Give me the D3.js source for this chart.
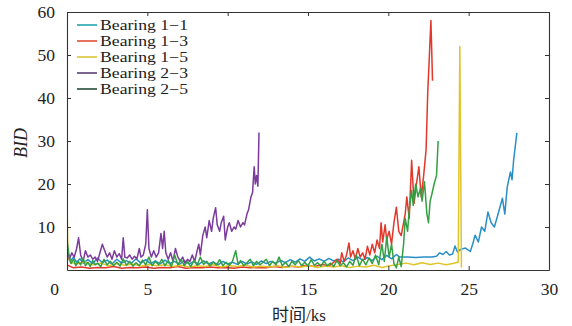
<!DOCTYPE html>
<html>
<head>
<meta charset="utf-8">
<script src="https://cdn.jsdelivr.net/npm/d3@7"></script>
<style>
  body { margin: 0; background: #fff; }
  svg { display: block; }
  text { font-family: "Liberation Serif", "Times New Roman", serif; fill: #222; }
</style>
</head>
<body>
<figure id="chart" style="margin:0"></figure>
<script>
// series names + colours
const names = ["Bearing 1\u22121", "Bearing 1\u22123", "Bearing 1\u22125", "Bearing 2\u22123", "Bearing 2\u22125"]
const colors = ["#2a8fc9", "#e2372a", "#e0c42a", "#7b3b9c", "#33a043"]
const legendColors = ["#4fb7bf", "#e8705f", "#e2cf5c", "#7a6690", "#4f7060"]

const xTicks = [0, 5, 10, 15, 20, 25, 30]
const yTicks = [10, 20, 30, 40, 50, 60]

// [time ks, BID]
const b11 = [[0,3.5],[0.2,2],[0.4,3],[0.6,1.8],[0.8,2.6],[1.0,1.6],[1.3,2.4],[1.6,1.5],[1.9,2.8],[2.2,1.7],[2.5,2.3],[2.8,1.4],[3.1,2.5],[3.4,1.6],[3.7,2.2],[4.0,1.5],[4.3,2.6],[4.6,1.6],[4.9,2.4],[5.2,1.5],[5.5,2.1],[5.8,1.4],[6.1,2.3],[6.4,1.5],[6.7,2.0],[7.0,1.3],[7.3,2.2],[7.6,1.4],[7.9,2.0],[8.2,1.3],[8.5,2.1],[8.8,1.4],[9.1,1.9],[9.4,1.2],[9.7,2.0],[10.0,1.4],[10.3,1.8],[10.6,1.3],[10.9,2.0],[11.2,1.4],[11.5,1.9],[11.8,1.3],[12.1,2.1],[12.4,1.5],[12.7,2.0],[13.0,1.6],[13.3,2.2],[13.6,1.7],[13.9,2.4],[14.2,1.8],[14.5,2.6],[14.8,2.0],[15.1,3.0],[15.4,2.1],[15.7,2.6],[16.0,2.0],[16.3,2.7],[16.6,2.1],[16.9,2.5],[17.2,1.9],[17.5,2.8],[17.8,2.2],[18.1,3.0],[18.4,2.3],[18.7,2.9],[19.0,2.2],[19.3,3.2],[19.6,2.4],[19.9,3.4],[20.2,2.6],[20.5,3.6],[20.7,3.0],[21.2,3.0],[21.7,2.9],[22.2,3.0],[22.7,3.0],[23.0,3.2],[23.2,4.0],[23.4,3.6],[23.6,4.3],[23.8,3.5],[24.0,3.7],[24.15,5.6],[24.3,4.2],[24.5,4.8],[24.8,5.1],[25.1,4.3],[25.25,6.0],[25.4,8.1],[25.6,6.5],[25.8,10],[26.0,9],[26.2,13.5],[26.4,11],[26.6,10],[26.8,12.6],[27.1,16.7],[27.25,13],[27.4,19.3],[27.6,22.8],[27.7,21],[27.8,25.6],[28.0,31.9]]

const b13 = [[0,1.2],[0.4,0.5],[0.9,0.7],[1.4,0.4],[1.9,0.6],[2.4,0.5],[2.9,0.8],[3.4,0.4],[3.9,0.6],[4.4,0.5],[4.9,0.7],[5.4,0.4],[5.9,0.6],[6.4,0.5],[6.9,0.8],[7.4,0.4],[7.9,0.6],[8.4,0.5],[8.9,0.7],[9.4,0.5],[9.9,0.6],[10.4,0.4],[10.9,0.7],[11.4,0.5],[11.9,0.6],[12.4,0.5],[12.9,0.8],[13.4,0.6],[13.9,0.9],[14.4,0.7],[14.9,1.1],[15.4,0.8],[15.9,1.3],[16.3,0.9],[16.6,1.8],[16.8,2.5],[17.0,1.5],[17.1,4],[17.25,2],[17.4,3.5],[17.55,6.3],[17.65,3],[17.8,4.5],[17.95,2.5],[18.1,5],[18.25,3],[18.4,4],[18.55,2.5],[18.7,5.5],[18.85,3.5],[19.0,6],[19.15,4],[19.3,7],[19.45,5],[19.55,11],[19.65,6.5],[19.8,10.5],[19.9,7],[20.05,9],[20.2,6],[20.35,11],[20.5,14.6],[20.65,9],[20.8,8],[20.95,11],[21.05,13],[21.15,17],[21.3,12],[21.45,25.5],[21.6,15.5],[21.75,20],[21.9,24],[22.05,17],[22.2,22],[22.35,28],[22.45,41],[22.55,49.5],[22.65,58],[22.75,44]]

const b15 = [[0,16],[0.06,3],[0.2,1.8],[0.6,1.4],[1.1,1.9],[1.6,1.2],[2.1,1.6],[2.6,1.0],[3.1,1.5],[3.6,1.1],[4.1,1.4],[4.6,0.9],[5.1,1.3],[5.6,1.0],[6.1,1.2],[6.6,0.8],[7.1,1.1],[7.6,0.7],[8.1,1.0],[8.6,0.8],[9.1,1.2],[9.6,0.7],[10.1,1.0],[10.6,0.8],[11.1,1.1],[11.6,0.7],[12.1,0.9],[12.6,0.7],[13.1,1.0],[13.6,0.6],[14.1,0.9],[14.6,0.7],[15.1,1.0],[15.6,0.6],[16.1,0.9],[16.6,0.7],[17.1,1.0],[17.6,0.6],[18.1,0.9],[18.6,0.7],[19.1,1.1],[19.6,0.6],[20.1,1.0],[20.6,1.3],[21.1,1.6],[21.6,1.2],[22.1,1.7],[22.6,1.3],[23.1,1.6],[23.6,1.2],[24.0,1.5],[24.35,1.8],[24.45,52],[24.55,0.6]]

const b23 = [[0,5.5],[0.15,2.5],[0.3,4],[0.45,3],[0.6,5],[0.72,7.5],[0.85,3.5],[1.0,2],[1.15,4.5],[1.3,3],[1.45,3.5],[1.6,2.5],[1.75,3],[1.9,2],[2.05,4],[2.2,6],[2.35,4.5],[2.5,3],[2.65,4],[2.8,2.5],[2.95,4.5],[3.1,3],[3.25,3.8],[3.4,2.5],[3.5,7.5],[3.6,3],[3.75,2.8],[3.9,3.5],[4.05,2.5],[4.2,3.2],[4.35,2.6],[4.5,5],[4.6,3],[4.75,3.5],[4.9,6],[5.0,14],[5.1,5],[5.25,3],[5.4,4.5],[5.55,3],[5.7,4],[5.85,8.5],[5.95,5],[6.05,9],[6.15,4],[6.3,2.5],[6.45,4],[6.6,2],[6.75,5],[6.9,3],[7.05,2],[7.2,3],[7.35,1.5],[7.5,2.5],[7.65,2],[7.8,3.5],[7.95,2],[8.1,4.5],[8.2,6],[8.3,3.5],[8.45,8],[8.6,10],[8.7,7.5],[8.85,11.5],[9.0,9],[9.1,12],[9.25,14.5],[9.35,10.5],[9.5,9],[9.6,11],[9.75,12.5],[9.85,7],[10.0,10],[10.1,11],[10.25,9],[10.4,10],[10.5,9.5],[10.65,11.5],[10.8,10],[10.95,11],[11.05,10.5],[11.2,13],[11.3,14],[11.45,17],[11.55,18],[11.65,24],[11.72,20],[11.8,22],[11.88,19.5],[11.95,32]]

const b25 = [[0,7],[0.1,4],[0.25,1.5],[0.4,2.5],[0.55,1],[0.7,2],[0.85,1.2],[1.0,2.8],[1.15,1],[1.3,1.8],[1.45,0.8],[1.6,2.2],[1.75,1.2],[1.9,1.6],[2.1,0.8],[2.3,2.5],[2.5,1.2],[2.7,2],[2.9,1],[3.1,1.8],[3.3,0.9],[3.5,2.6],[3.7,1.1],[3.9,2],[4.1,0.9],[4.3,1.7],[4.5,1],[4.7,2.3],[4.9,1.2],[5.1,3],[5.3,1],[5.5,2],[5.7,1.2],[5.9,2.5],[6.1,1],[6.3,2.2],[6.5,0.8],[6.7,3.5],[6.9,1.2],[7.1,2.5],[7.3,1],[7.5,2],[7.7,0.8],[7.9,2.2],[8.1,1.1],[8.3,3],[8.5,1.3],[8.7,2],[8.9,1],[9.1,1.8],[9.3,1.2],[9.5,2.4],[9.7,1],[9.9,1.8],[10.1,1.1],[10.3,2],[10.5,4.5],[10.65,1.3],[10.8,2.2],[11.0,1],[11.2,1.7],[11.4,2.5],[11.6,1],[11.8,2],[12.0,1.2],[12.2,1.8],[12.4,2.5],[12.6,1],[12.8,2],[13.0,1.2],[13.2,3],[13.4,1],[13.6,1.8],[13.8,0.8],[14.0,2],[14.2,1.2],[14.4,2.2],[14.6,1],[14.8,1.8],[15.0,0.9],[15.2,2.4],[15.4,1.1],[15.6,1.7],[15.8,0.9],[16.0,2],[16.2,1],[16.4,1.6],[16.6,0.8],[16.8,2.2],[17.0,1],[17.2,1.7],[17.4,0.7],[17.6,2],[17.8,1.1],[18.0,3.5],[18.2,1],[18.4,2.5],[18.6,1.2],[18.8,2.8],[19.0,1.5],[19.2,3.5],[19.4,1.2],[19.6,6],[19.75,2],[19.9,7.7],[20.05,3],[20.2,6],[20.35,1.5],[20.5,0.5],[20.65,3],[20.8,0.8],[20.95,6],[21.05,12],[21.2,9],[21.3,14],[21.45,18.5],[21.55,15],[21.7,20],[21.85,17],[22.0,19],[22.1,16],[22.25,20.5],[22.4,13],[22.5,11],[22.6,16],[22.7,17.5],[22.85,20],[23.0,22],[23.1,30]]

const series = [b11, b13, b15, b23, b25]

const margin = { top: 12, right: 23, bottom: 56, left: 67 }
const width = 572 - margin.left - margin.right
const height = 326 - margin.top - margin.bottom

const svg = d3.select('figure#chart')
  .append("svg")
  .attr("width", 572)
  .attr("height", 326)

const g = svg.append("g")
  .attr("transform", "translate(" + margin.left + "," + margin.top + ")")

const x = d3.scaleLinear().domain([0, 30]).range([0, width])
const y = d3.scaleLinear().domain([0, 60]).range([height, 0])

const line = d3.line()
  .x((d) => x(d[0]))
  .y((d) => y(d[1]))

const clip = g.append("clipPath").attr("id", "plotclip")
clip.append("rect").attr("width", width).attr("height", height)

const lines = g.append("g").attr("clip-path", "url(#plotclip)")
series.forEach((s, i) => {
  lines.append("path")
    .datum(s)
    .attr("fill", "none")
    .attr("stroke", colors[i])
    .attr("stroke-width", 1.5)
    .attr("stroke-linejoin", "round")
    .attr("d", line)
})

// axes, ticks pointing inward (box style)
const fontSize = "17.5px"
const xAxis = g.append("g")
  .attr("transform", "translate(0," + height + ")")
  .call(d3.axisBottom(x).tickValues(xTicks).tickSizeInner(-4).tickSizeOuter(0).tickPadding(13))
xAxis.selectAll("text").style("font-size", fontSize)
  .attr("dx", (d) => d === 0 ? -13 : 0)

const xTop = g.append("g")
  .call(d3.axisTop(x).tickValues(xTicks).tickSizeInner(-4).tickSizeOuter(0).tickFormat(""))

const yAxis = g.append("g")
  .call(d3.axisLeft(y).tickValues(yTicks).tickSizeInner(-4).tickSizeOuter(0).tickPadding(12))
yAxis.selectAll("text").style("font-size", fontSize)

const yRight = g.append("g")
  .attr("transform", "translate(" + width + ",0)")
  .call(d3.axisRight(y).tickValues(yTicks).tickSizeInner(-4).tickSizeOuter(0).tickFormat(""))

g.selectAll(".domain").attr("stroke", "#333").attr("stroke-width", 1.1)
g.selectAll(".tick line").attr("stroke", "#333")

// legend: rows kept tight, text stretched to the original width
const legend = g.append("g").attr("transform", "translate(10,13)")
names.forEach((n, i) => {
  const row = legend.append("g").attr("transform", "translate(0," + (i * 16) + ")")
  row.append("line")
    .attr("x1", 0).attr("x2", 20)
    .attr("stroke", legendColors[i])
    .attr("stroke-width", 2)
  row.append("text")
    .attr("x", 23)
    .attr("dy", "0.33em")
    .attr("textLength", 88)
    .attr("lengthAdjust", "spacingAndGlyphs")
    .style("font-size", "14px")
    .text(n)
})

// axis titles
svg.append("text")
  .attr("transform", "translate(27,143) rotate(-90)")
  .attr("text-anchor", "middle")
  .style("font-size", "18px")
  .style("font-style", "italic")
  .text("BID")

svg.append("text")
  .attr("x", 299)
  .attr("y", 321)
  .attr("text-anchor", "middle")
  .style("font-size", "17px")
  .style("font-family", "'Liberation Serif', 'Noto Sans CJK SC', serif")
  .text("时间/ks")
</script>
</body>
</html>
